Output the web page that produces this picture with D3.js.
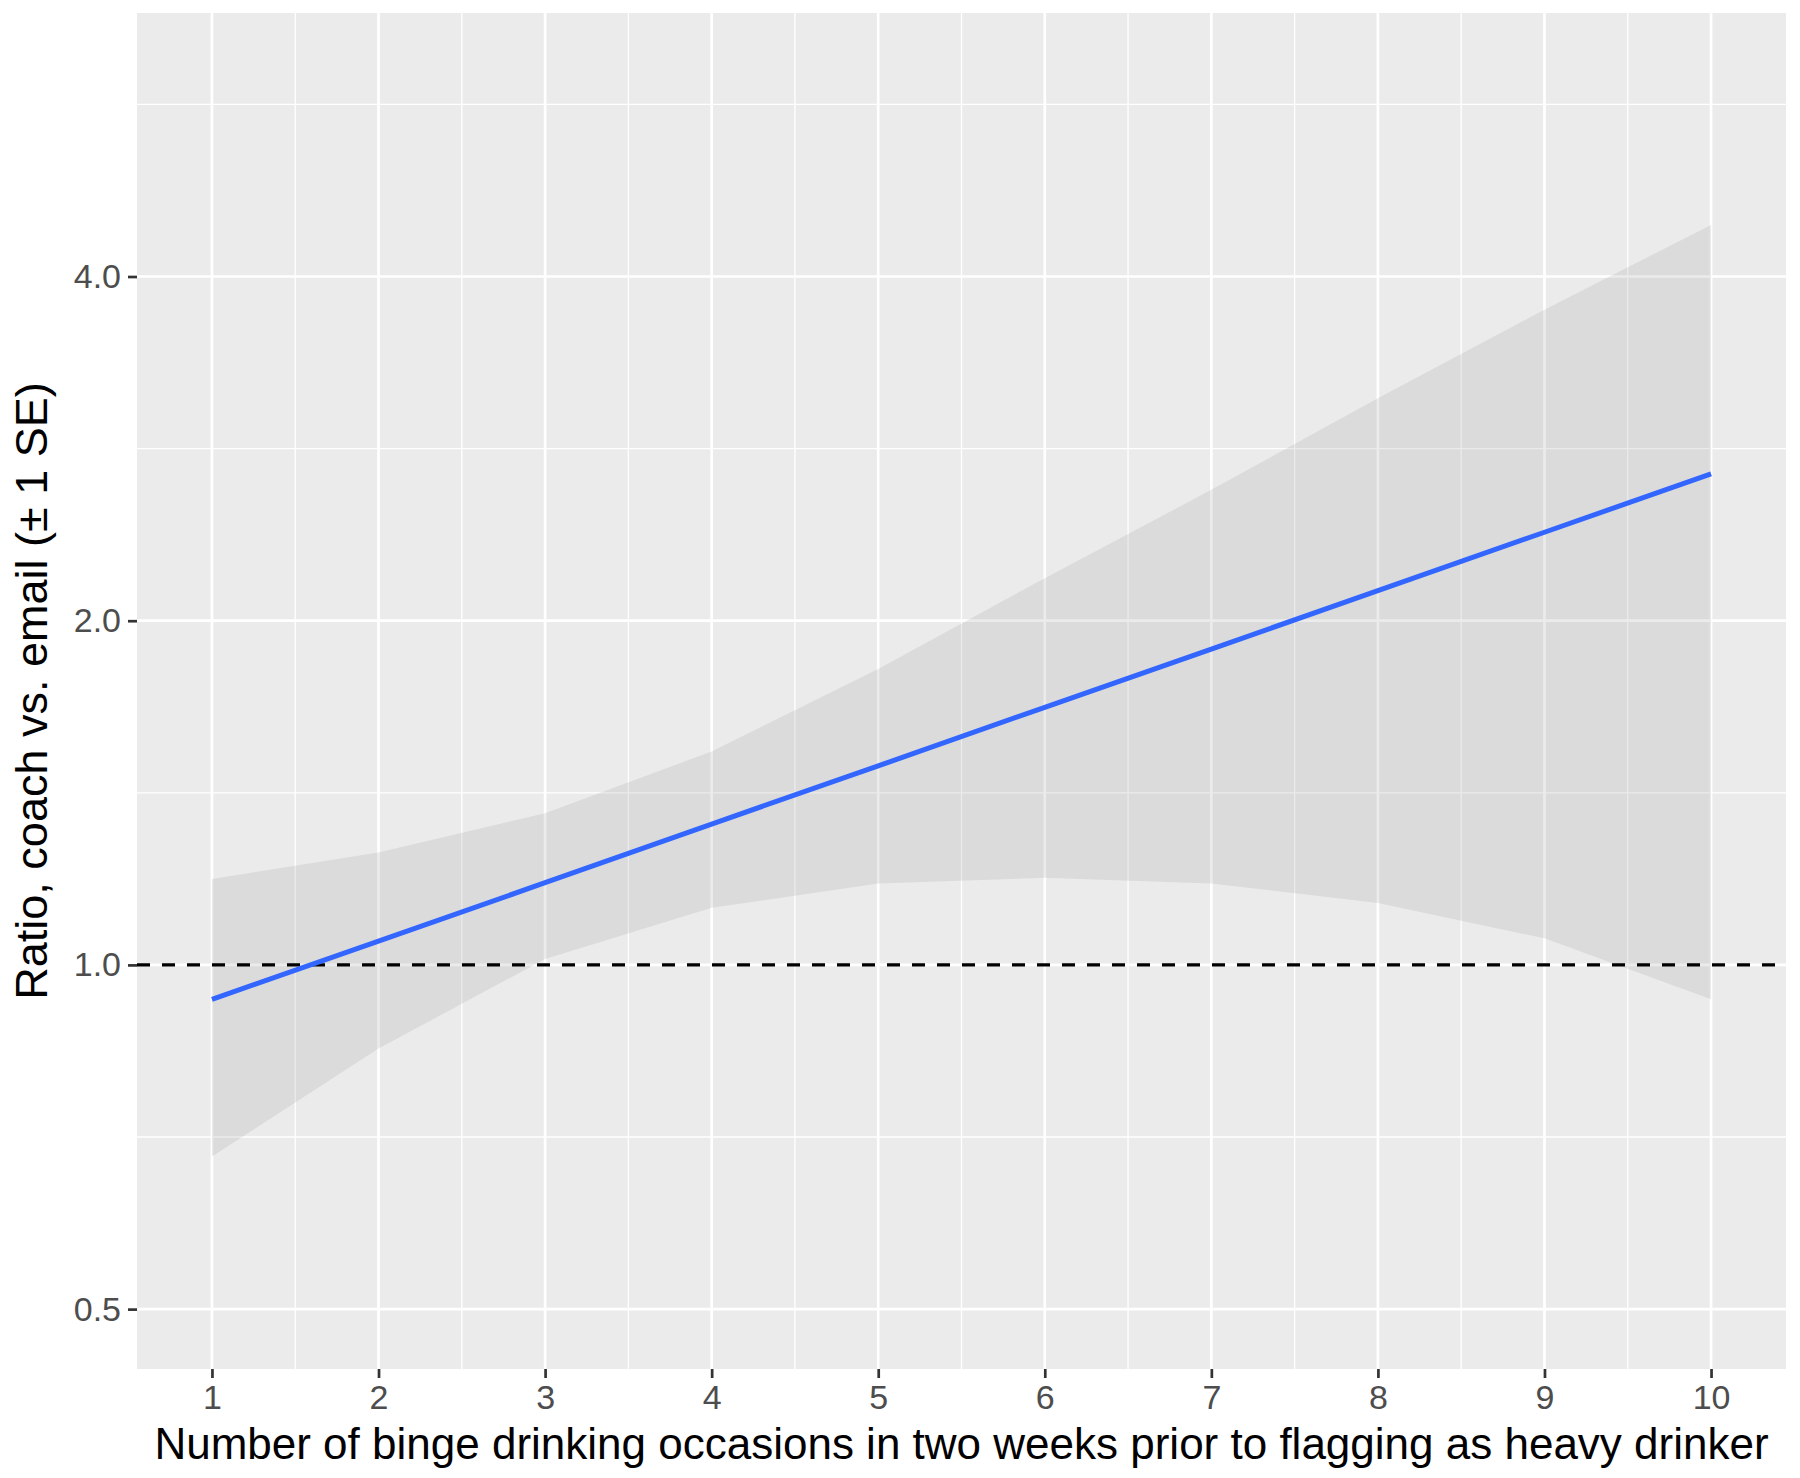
<!DOCTYPE html>
<html>
<head>
<meta charset="utf-8">
<script src="https://cdn.jsdelivr.net/npm/d3@7/dist/d3.min.js"></script>
<style>
  body { margin: 0; background: #fff; }
  text { font-family: "Liberation Sans", Arial, Helvetica, sans-serif; }
</style>
</head>
<body>
<div id="chart"></div>
<script>
// values
var occasions = [1, 2, 3, 4, 5, 6, 7, 8, 9, 10];
var ratioFit  = [0.933, 1.049, 1.180, 1.328, 1.493, 1.680, 1.889, 2.125, 2.390, 2.688];
var seUpper   = [1.189, 1.254, 1.357, 1.537, 1.815, 2.179, 2.603, 3.131, 3.741, 4.438];
var seLower   = [0.680, 0.845, 1.012, 1.122, 1.178, 1.192, 1.178, 1.133, 1.055, 0.933];
var refRatio = 1.0;

var xTicks = [1, 2, 3, 4, 5, 6, 7, 8, 9, 10];
var xMinor = [1.5, 2.5, 3.5, 4.5, 5.5, 6.5, 7.5, 8.5, 9.5];
var yTicks = [0.5, 1, 2, 4];
var yTickLabels = ["0.5", "1.0", "2.0", "4.0"];
var yMinor = [0.7071, 1.4142, 2.8284, 5.6569];

var xTitle = "Number of binge drinking occasions in two weeks prior to flagging as heavy drinker";
var yTitle = "Ratio, coach vs. email (\u00b1 1 SE)";

function drawChart() {
    var width = 1800, height = 1478;
    var margin = {top: 13, right: 14, bottom: 109, left: 137};
    var w = width - margin.left - margin.right;
    var h = height - margin.top - margin.bottom;

    var svg = d3.select("#chart").append("svg")
        .attr("width", width)
        .attr("height", height);

    var g = svg.append("g")
        .attr("transform", "translate(" + margin.left + "," + margin.top + ")");

    // ggplot-style 5% expansion on x, log scale on y
    var x = d3.scaleLinear().domain([0.55, 10.45]).range([0, w]);
    var y = d3.scaleLog().base(2).domain([0.4432, 6.8]).range([h, 0]);

    // panel background
    g.append("rect")
        .attr("width", w)
        .attr("height", h)
        .attr("fill", "#EBEBEB");

    // minor grid
    g.selectAll(".xminor").data(xMinor).enter().append("line")
        .attr("x1", d => x(d)).attr("x2", d => x(d))
        .attr("y1", 0).attr("y2", h)
        .attr("stroke", "#fff").attr("stroke-width", 1.3);
    g.selectAll(".yminor").data(yMinor).enter().append("line")
        .attr("x1", 0).attr("x2", w)
        .attr("y1", d => y(d)).attr("y2", d => y(d))
        .attr("stroke", "#fff").attr("stroke-width", 1.3);

    // major grid
    g.selectAll(".xmajor").data(xTicks).enter().append("line")
        .attr("x1", d => x(d)).attr("x2", d => x(d))
        .attr("y1", 0).attr("y2", h)
        .attr("stroke", "#fff").attr("stroke-width", 2.7);
    g.selectAll(".ymajor").data(yTicks).enter().append("line")
        .attr("x1", 0).attr("x2", w)
        .attr("y1", d => y(d)).attr("y2", d => y(d))
        .attr("stroke", "#fff").attr("stroke-width", 2.7);

    var rows = occasions.map(function(o, i) {
        return {x: o, fit: ratioFit[i], lo: seLower[i], hi: seUpper[i]};
    });

    // +/- 1 SE ribbon
    var band = d3.area()
        .x(d => x(d.x))
        .y0(d => y(d.lo))
        .y1(d => y(d.hi));
    g.append("path")
        .datum(rows)
        .attr("d", band)
        .attr("fill", "#999999")
        .attr("fill-opacity", 0.2);

    // reference line at ratio 1
    g.append("line")
        .attr("x1", 0).attr("x2", w)
        .attr("y1", y(refRatio)).attr("y2", y(refRatio))
        .attr("stroke", "#000")
        .attr("stroke-width", 3.4)
        .attr("stroke-dasharray", "13,12");

    // fitted line
    var valueline = d3.line()
        .x(d => x(d.x))
        .y(d => y(d.fit));
    g.append("path")
        .datum(rows)
        .attr("d", valueline)
        .attr("fill", "none")
        .attr("stroke", "#3366FF")
        .attr("stroke-width", 5);

    // x axis
    var xAxis = g.append("g")
        .attr("transform", "translate(0," + h + ")")
        .call(d3.axisBottom(x).tickValues(xTicks).tickFormat(d3.format("d"))
            .tickSize(9).tickPadding(7));
    xAxis.select(".domain").remove();
    xAxis.selectAll("line").attr("stroke", "#333333").attr("stroke-width", 2.7);
    xAxis.selectAll("text")
        .attr("fill", "#4D4D4D")
        .style("font-size", "34px");

    // y axis
    var yAxis = g.append("g")
        .call(d3.axisLeft(y).tickValues(yTicks).tickFormat((d, i) => yTickLabels[i])
            .tickSize(9).tickPadding(7));
    yAxis.select(".domain").remove();
    yAxis.selectAll("line").attr("stroke", "#333333").attr("stroke-width", 2.7);
    yAxis.selectAll("text")
        .attr("fill", "#4D4D4D")
        .style("font-size", "34px");

    // axis titles
    svg.append("text")
        .attr("x", margin.left + w / 2)
        .attr("y", 1459)
        .attr("text-anchor", "middle")
        .attr("fill", "#000")
        .style("font-size", "44px")
        .text(xTitle);

    svg.append("text")
        .attr("transform", "translate(47," + (margin.top + h / 2) + ") rotate(-90)")
        .attr("text-anchor", "middle")
        .attr("fill", "#000")
        .style("font-size", "45px")
        .text(yTitle);
}

drawChart();
</script>
</body>
</html>
